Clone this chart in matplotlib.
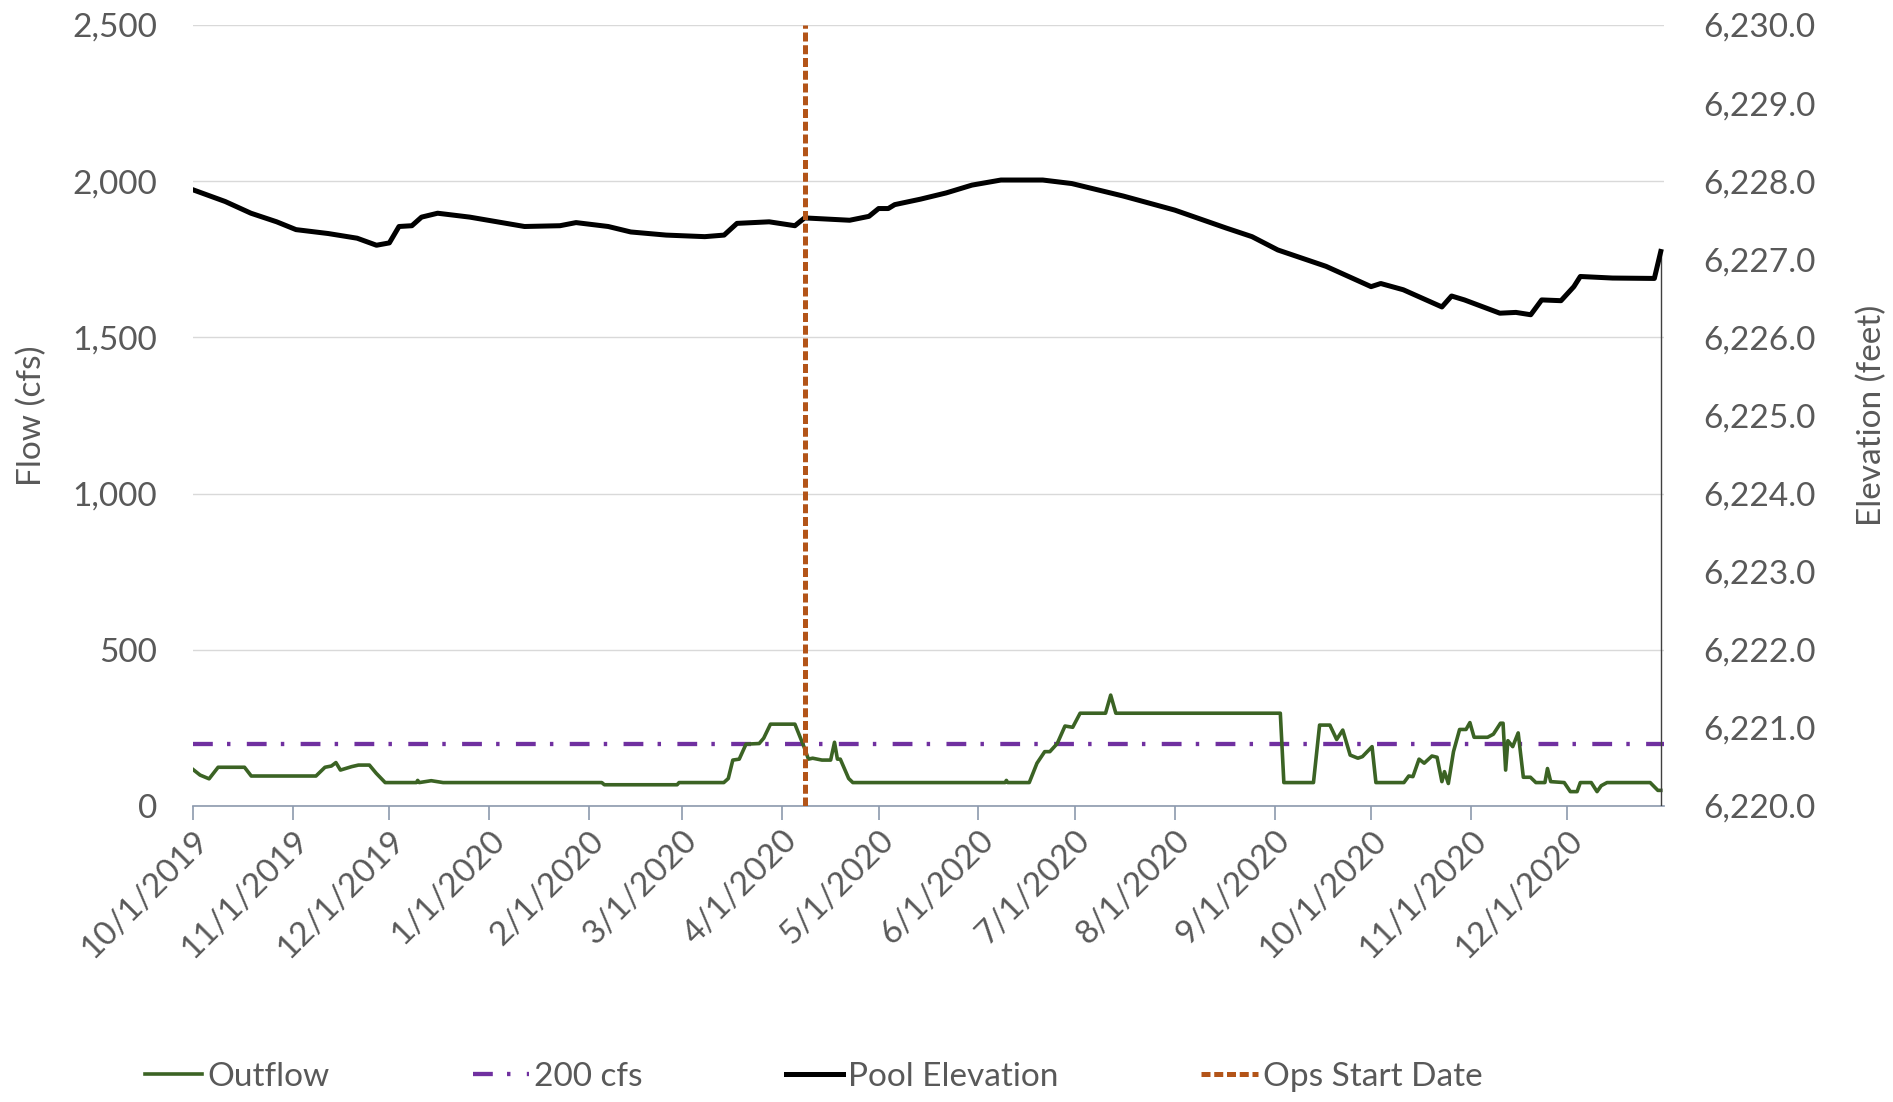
import datetime as dt
import matplotlib
matplotlib.use("Agg")
import matplotlib.pyplot as plt
import matplotlib.dates as mdates
from matplotlib.ticker import FuncFormatter, MultipleLocator

plt.rcParams['font.family'] = ['Lato', 'DejaVu Sans']

inicio = dt.datetime(2019, 10, 1)
fin = dt.datetime(2020, 12, 31)
ops_inicio = dt.datetime(2020, 4, 8)
umbral_cfs = 200

# Caudal de salida (cfs): dias desde 10/1/2019 y valores
dias_caudal = [0, 2.2, 5, 7.8, 16, 18.1, 38.2, 41, 43, 44.4, 45.8, 49.3, 51.4, 54.8, 56.9,
               59.7, 69.4, 69.8, 70.3, 74, 77.7, 127, 127.8, 150.4, 151, 164.9, 166.3,
               167.7, 169.7, 171.8, 175.9, 177.3, 179.4, 187, 189.8, 191.2, 192.5, 195.4,
               198.1, 199.3, 200.2, 201.1, 203.7, 205, 252.3, 252.7, 253.1, 259.8, 262.2,
               264.6, 266.2, 268.5, 270.9, 273.3, 275.6, 283.5, 285.1, 286.7, 337.8, 338.9,
               348.1, 350, 353.2, 355.3, 357.2, 359.5, 361.9, 363.3, 366.3, 367.5, 376.2,
               377.7, 379, 380.9, 382.5, 384.9, 386.5, 388, 388.8, 390, 391.6, 393.5, 395.5,
               396.7, 398, 402.2, 404, 406.2, 407, 407.8, 408.5, 410, 411.7, 413.3, 415.5,
               417.2, 420, 420.8, 421.8, 426, 427.9, 430, 431, 434.4, 436.2, 437.5, 439.3,
               452.7, 455.1, 456]
caudal = [117, 99, 87, 124, 124, 96, 96, 124, 128, 139, 115, 126, 131, 131, 105,
          75, 75, 82, 75, 81, 75, 75, 68, 68, 75, 75, 88,
          147, 150, 198, 200, 217, 262, 262, 190, 150, 153, 147,
          147, 204, 150, 150, 88, 75, 75, 82, 75, 75, 137,
          174, 174, 200, 256, 252, 297, 297, 355, 297, 297, 75,
          75, 259, 259, 213, 243, 163, 153, 158, 190, 75, 75,
          96, 94, 150, 137, 160, 156, 78, 110, 72, 174, 245, 245,
          267, 220, 220, 230, 265, 265, 115, 209, 190, 234, 92, 92,
          75, 75, 120, 78, 75, 46, 46, 75, 75, 46, 65, 75,
          75, 50, 50]

# Elevacion del embalse (pies): dias desde 10/1/2019 y valores
dias_elev = [0, 10, 18, 26, 32, 42, 51, 57, 61, 64, 68, 71, 76, 86, 103, 114, 119, 129,
             136, 147, 159, 165, 169, 179, 187, 190, 204, 210, 213, 216, 218, 226, 234,
             242, 251, 264, 273, 289, 305, 321, 329, 337, 352, 366, 369, 376, 388, 391,
             395, 406, 411, 415.6, 419, 425, 429, 431, 441, 454, 456]
elevacion = [6227.89, 6227.74, 6227.59, 6227.48, 6227.38, 6227.33, 6227.27, 6227.18,
             6227.21, 6227.42, 6227.43, 6227.54, 6227.59, 6227.54, 6227.42, 6227.43,
             6227.47, 6227.42, 6227.35, 6227.31, 6227.29, 6227.31, 6227.46, 6227.48,
             6227.43, 6227.53, 6227.50, 6227.55, 6227.65, 6227.65, 6227.70, 6227.77,
             6227.85, 6227.95, 6228.015, 6228.015, 6227.97, 6227.81, 6227.63, 6227.40,
             6227.29, 6227.12, 6226.91, 6226.65, 6226.69, 6226.61, 6226.39, 6226.53,
             6226.48, 6226.31, 6226.32, 6226.29, 6226.48, 6226.47, 6226.65, 6226.78,
             6226.76, 6226.755, 6227.10]

fechas_caudal = [inicio + dt.timedelta(days=d) for d in dias_caudal]
fechas_elev = [inicio + dt.timedelta(days=d) for d in dias_elev]

gris = '#595959'
tam = 24
fig = plt.figure(figsize=(18.93, 11.02), dpi=100)
ax = fig.add_axes([193 / 1893, 1 - 806 / 1102, (1664 - 193) / 1893, (806 - 25) / 1102])
ax2 = ax.twinx()

l1, = ax.plot(fechas_caudal, caudal, color='#3B6324', lw=2.6, label='Outflow', zorder=3)
l2, = ax.plot([inicio, fin], [umbral_cfs, umbral_cfs], color='#7030A0', lw=3.1,
              dashes=(4.6, 3.3, 0.8, 3.8), label='200 cfs', zorder=2)
l3, = ax2.plot(fechas_elev, elevacion, color='black', lw=3.6, label='Pool Elevation', zorder=3)
ax2.vlines(fechas_elev[-1], 6220, elevacion[-1], color='#404040', lw=1.0)
l4 = ax2.axvline(ops_inicio, color='#B35418', lw=3.6, dashes=(1.8, 0.75),
                 label='Ops Start Date', zorder=4)

ax.set_xlim(inicio, fin)
ax.set_ylim(0, 2500)
ax2.set_ylim(6220, 6230)
ax.yaxis.set_major_locator(MultipleLocator(500))
ax2.yaxis.set_major_locator(MultipleLocator(1))
ax.yaxis.set_major_formatter(FuncFormatter(lambda v, p: f"{v:,.0f}"))
ax2.yaxis.set_major_formatter(FuncFormatter(lambda v, p: f"{v:,.1f}"))

ax.xaxis.set_major_locator(mdates.MonthLocator())
ax.xaxis.set_major_formatter(FuncFormatter(
    lambda v, p: f"{mdates.num2date(v).month}/1/{mdates.num2date(v).year}"))

ax.grid(axis='y', color='#D9D9D9', lw=1.0)
ax.set_axisbelow(True)
for a in (ax, ax2):
    for s in ('top', 'left', 'right'):
        a.spines[s].set_visible(False)
ax2.spines['bottom'].set_visible(False)
ax.spines['bottom'].set_color('#8C99AD')
ax.spines['bottom'].set_linewidth(1.2)

ax.tick_params(axis='y', length=0, pad=26, labelsize=tam, labelcolor=gris)
ax2.tick_params(axis='y', length=0, pad=28, labelsize=tam, labelcolor=gris)
ax.tick_params(axis='x', length=10, width=1.2, color='#8C99AD', pad=4,
               labelsize=tam, labelcolor=gris)
for t in ax.get_xticklabels():
    t.set_rotation(45)
    t.set_ha('right')
    t.set_rotation_mode('anchor')

ax.set_ylabel('Flow (cfs)', fontsize=tam, color=gris, labelpad=18)
ax2.set_ylabel('Elevation (feet)', fontsize=tam, color=gris, labelpad=30)

fig.legend(handles=[l1, l2, l3, l4], loc='center', bbox_to_anchor=(0.43, 0.023),
           ncol=4, frameon=False, fontsize=tam, labelcolor=gris, handlelength=1.7,
           handletextpad=0.15, columnspacing=4.3)

fig.savefig('out.png', dpi=100)
